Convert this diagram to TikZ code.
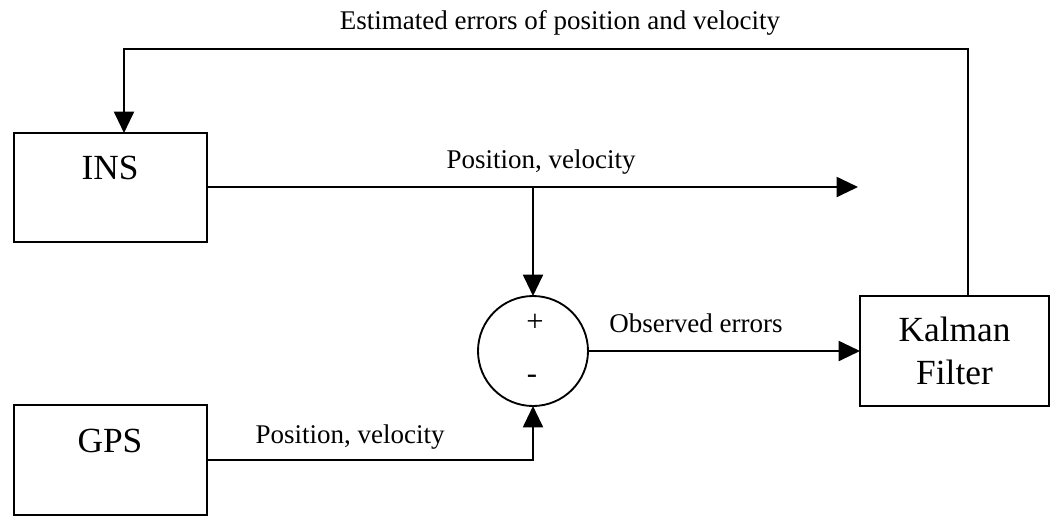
\documentclass[tikz,border=0pt]{standalone}
\usepackage{fontspec}
\setmainfont{Liberation Serif}
\usetikzlibrary{arrows.meta}
\begin{document}
\begin{tikzpicture}[x=0.75pt,y=-0.75pt,
  line width=1.5pt,
  box/.style={draw, rectangle, line width=1.5pt, inner sep=0pt, outer sep=0pt},
  boxtext/.style={font=\fontsize{26.5pt}{32pt}\selectfont, inner sep=0pt, anchor=base},
  lbl/.style={font=\fontsize{20.25pt}{24pt}\selectfont, inner sep=0pt, anchor=base},
  sign/.style={font=\fontsize{23pt}{26pt}\selectfont, inner sep=0pt, anchor=center},
  arr/.style={-{Triangle[length=16pt,width=15pt]}}]
\useasboundingbox (0,0) rectangle (1064,526);
% boxes
\node[box, minimum width={193*0.75pt}, minimum height={109*0.75pt}] (ins) at (110.5,187.5) {};
\node[boxtext] (inslbl) at (110,179) {INS};
\node[box, minimum width={193*0.75pt}, minimum height={110*0.75pt}] (gps) at (110.5,460) {};
\node[boxtext] (gpslbl) at (110,452) {GPS};
\node[box, minimum width={189*0.75pt}, minimum height={110*0.75pt}, align=center,
  font=\fontsize{26.5pt}{32pt}\selectfont] (kf) at (954.5,351) {Kalman\\Filter};
\node[draw, circle, line width=1.4pt, minimum size={110*0.75pt}, inner sep=0pt, outer sep=0pt] (sum) at (533,351) {};
\node[sign] (plus) at (535,323) {+};
\node[sign] (minus) at (532,379) {-};
% coordinates
\coordinate (out1) at (858,187);
\coordinate (j1) at (533,187);
\coordinate (fbr) at (968,49);
\coordinate (fbl) at (124,49);
\coordinate (gj) at (533,460);
% connectors
\draw[arr] (ins.east |- out1) -- (out1);
\draw[arr] (j1) -- (sum.north);
\draw[arr] (sum.east) -- (kf.west);
\draw[arr] (gps.east) -- (gj) -- (sum.south);
\draw[arr] (kf.north -| fbr) -- (fbr) -- (fbl) -- (ins.north -| fbl);
% labels
\node[lbl] (l1) at (560,29) {Estimated errors of position and velocity};
\node[lbl] (l2) at (541,168) {Position, velocity};
\node[lbl] (l3) at (696,332) {Observed errors};
\node[lbl] (l4) at (350,443) {Position, velocity};
\end{tikzpicture}
\end{document}
